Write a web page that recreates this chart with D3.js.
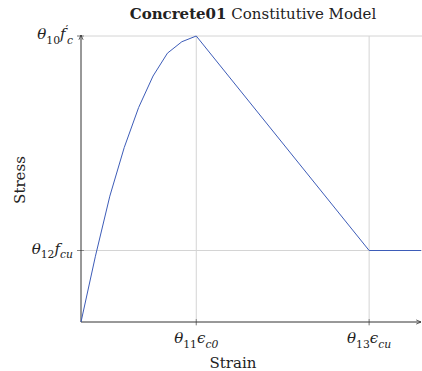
<!DOCTYPE html>
<html lang="en">
<head>
<meta charset="UTF-8">
<title>Concrete01</title>
<script src="https://d3js.org/d3.v7.min.js"></script>
<style>
  body { margin: 0; background: #fff; }
  text { font-family: 'DejaVu Serif', 'Liberation Serif', serif; fill: #222; }
</style>
</head>
<body>
<script>
// stress-strain points (stress relative to f'c)
const strain = [0, 0.00025, 0.0005, 0.00075, 0.001, 0.00125, 0.0015, 0.00175, 0.002, 0.005, 0.0059];
const stress = [0, 0.23, 0.44, 0.61, 0.75, 0.86, 0.94, 0.98, 1.0, 0.25, 0.25];

const xTicks = [0.002, 0.005];
const yTicks = [0.25, 1.0];
// label pieces: [text, italic, pos]  pos: 0 baseline, -1 subscript, 1 superscript, 2 subscript right after a superscript
const xTickLabels = [
  [['θ', 1, 0], ['11', 0, -1], ['ϵ', 1, 0], ['c0', 1, -1]],
  [['θ', 1, 0], ['13', 0, -1], ['ϵ', 1, 0], ['cu', 1, -1]]
];
const yTickLabels = [
  [['θ', 1, 0], ['12', 0, -1], ['f', 1, 0], ['cu', 1, -1]],
  [['θ', 1, 0], ['10', 0, -1], ['f', 1, 0], ['′', 0, 1], ['c', 1, 2]]
];

const W = 422, H = 371;
const x = d3.scaleLinear().domain([0, 0.0059]).range([81, 421]);
const y = d3.scaleLinear().domain([0, 1]).range([322, 36]);

const svg = d3.select('body').append('svg').attr('width', W).attr('height', H);

svg.append('defs').append('marker').attr('id', 'arr')
  .attr('viewBox', '0 0 10 10').attr('refX', 9).attr('refY', 5)
  .attr('markerWidth', 6).attr('markerHeight', 6).attr('orient', 'auto')
  .append('path').attr('d', 'M1,1.5 L9,5 L1,8.5').attr('fill', 'none')
  .attr('stroke', '#333').attr('stroke-width', 1.3);

// grid
svg.selectAll('.gx').data(xTicks).enter().append('line')
  .attr('x1', d => x(d)).attr('x2', d => x(d))
  .attr('y1', y(1)).attr('y2', y(0) + 4)
  .attr('stroke', '#d4d4d4');
svg.selectAll('.gy').data(yTicks).enter().append('line')
  .attr('x1', x(0) - 4).attr('x2', W)
  .attr('y1', d => y(d)).attr('y2', d => y(d))
  .attr('stroke', '#d4d4d4');

// tick marks
svg.selectAll('.tx').data(xTicks).enter().append('line')
  .attr('x1', d => x(d)).attr('x2', d => x(d))
  .attr('y1', y(0) - 3).attr('y2', y(0) + 3).attr('stroke', '#888');
svg.selectAll('.ty').data(yTicks).enter().append('line')
  .attr('x1', x(0) - 4).attr('x2', x(0) + 3)
  .attr('y1', d => y(d)).attr('y2', d => y(d)).attr('stroke', '#888');

// axes with arrows
svg.append('line').attr('x1', x(0)).attr('y1', y(0)).attr('x2', x(0)).attr('y2', y(1) - 1)
  .attr('stroke', '#333').attr('marker-end', 'url(#arr)');
svg.append('line').attr('x1', x(0)).attr('y1', y(0)).attr('x2', 421).attr('y2', y(0))
  .attr('stroke', '#333').attr('marker-end', 'url(#arr)');

// curve
const pts = strain.map((s, i) => [s, stress[i]]);
svg.append('path').datum(pts)
  .attr('d', d3.line().x(d => x(d[0])).y(d => y(d[1])))
  .attr('fill', 'none').attr('stroke', '#3d5cb8').attr('stroke-width', 1);

// math label: each piece gets a dy relative to the previous baseline offset
function mathLabel(sel, parts, size) {
  let cur = 0;
  parts.forEach(p => {
    const pos = p[2];
    const off = pos === -1 || pos === 2 ? size * 0.3 : pos === 1 ? -size * 0.42 : 0;
    const t = sel.append('tspan').text(p[0])
      .attr('font-style', p[1] ? 'italic' : 'normal')
      .attr('font-size', pos === 0 ? size : size * 0.72);
    if (off !== cur) t.attr('dy', off - cur);
    if (pos === 2) t.attr('dx', -size * 0.08);
    cur = off;
  });
}

svg.selectAll('.xl').data(xTicks).enter().append('text')
  .attr('x', d => x(d)).attr('y', 343).attr('text-anchor', 'middle')
  .attr('font-size', 15)
  .each(function (d, i) { mathLabel(d3.select(this), xTickLabels[i], 15); });

svg.selectAll('.yl').data(yTicks).enter().append('text')
  .attr('x', 73).attr('y', d => y(d) + 3).attr('text-anchor', 'end')
  .attr('font-size', 15)
  .each(function (d, i) { mathLabel(d3.select(this), yTickLabels[i], 15); });

// axis titles
svg.append('text').attr('x', 233).attr('y', 368).attr('text-anchor', 'middle')
  .attr('font-size', 15).text('Strain');
svg.append('text').attr('transform', 'translate(25,180) rotate(-90)')
  .attr('text-anchor', 'middle').attr('font-size', 15).text('Stress');

// title
const title = svg.append('text').attr('x', 253).attr('y', 19).attr('text-anchor', 'middle')
  .attr('font-size', 15);
title.append('tspan').attr('font-weight', 'bold').text('Concrete01');
title.append('tspan').text(' Constitutive Model');
</script>
</body>
</html>
